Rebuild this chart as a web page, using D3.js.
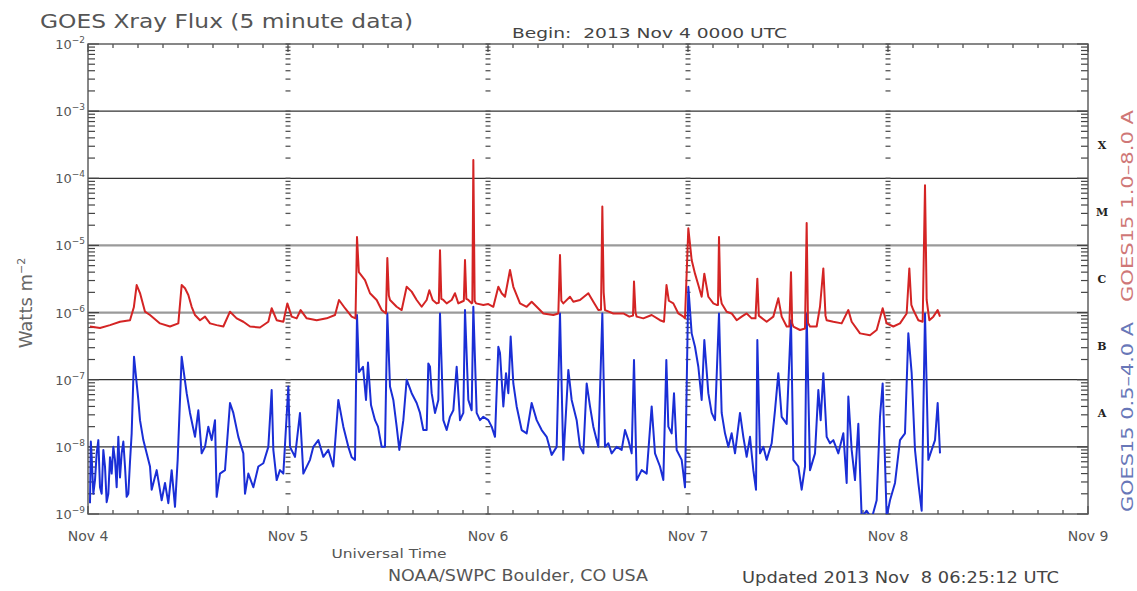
<!DOCTYPE html>
<html>
<head>
<meta charset="utf-8">
<script src="https://cdn.jsdelivr.net/npm/d3@7"></script>
<style>
  html, body { margin: 0; padding: 0; background: #fff; }
  svg { display: block; }
  #chart { font-family: "DejaVu Sans", sans-serif; fill: #444; }
  #chart text { white-space: pre; }
</style>
</head>
<body>
<svg id="chart" width="1137" height="591"></svg>
<script>
// Time axis: hours since 2013 Nov 4 00:00 UTC
const dayLabels = ["Nov 4", "Nov 5", "Nov 6", "Nov 7", "Nov 8", "Nov 9"];
const decadeExponents = [-2, -3, -4, -5, -6, -7, -8, -9];
const flareClasses = ["X", "M", "C", "B", "A"];
const flareClassFloor = [1e-4, 1e-5, 1e-6, 1e-7, 1e-8];

// GOES15 1.0-8.0 A channel (W m^-2)
const longHours = [0.24,1.44,2.64,3.84,5.04,5.5,5.84,6.24,6.84,7.44,8.64,9.84,10.84,11.24,11.64,12.04,12.44,12.84,13.44,14.04,14.64,15.44,16.24,17.04,17.84,18.64,19.44,20.64,21.64,22.04,22.64,23.44,23.92,24.44,25.04,25.52,26.24,27.44,28.64,29.64,30.12,30.84,31.64,32.1,32.28,32.5,33.24,33.84,34.64,35.24,35.76,35.92,36.1,36.24,37.04,37.64,38.24,38.84,39.44,40.04,40.64,40.96,41.36,41.84,42.1,42.24,42.4,42.64,43.04,43.64,44.04,44.44,44.84,45.1,45.24,45.4,45.64,46.04,46.12,46.24,46.4,46.56,47.44,48.04,48.64,49.24,49.64,50.04,50.64,51.04,51.84,52.64,53.24,53.84,54.64,55.84,56.44,56.64,56.8,57.04,57.84,58.24,59.04,60.04,60.64,61.24,61.56,61.72,61.88,62.04,63.04,64.24,64.96,65.4,65.52,65.7,65.84,66.64,67.64,68.64,69.12,69.42,69.7,70.24,70.84,71.44,71.64,72.04,72.44,72.84,73.24,73.64,73.96,74.44,75.04,75.44,75.6,75.72,75.88,76.04,76.64,77.24,77.84,78.44,79.04,79.64,80.1,80.32,80.5,80.64,81.44,82.24,82.84,83.24,83.84,84.16,84.36,84.5,84.64,85.44,86.04,86.24,86.4,86.64,87.44,87.84,88.24,88.5,88.64,89.44,90.44,91.24,91.64,92.64,93.84,94.64,95.36,95.84,96.64,97.44,98.24,98.56,98.8,99.04,99.64,100.16,100.44,100.64,100.96,101.44,101.96,102.24];
const longFlux = [6.2e-7,5.9e-7,6.5e-7,7.3e-7,7.7e-7,1.2e-6,2.57e-6,1.95e-6,1.03e-6,9.2e-7,6.9e-7,6.2e-7,6.9e-7,2.57e-6,2.3e-6,1.83e-6,1.22e-6,9.2e-7,7.7e-7,8.7e-7,6.9e-7,6.5e-7,6.2e-7,1.03e-6,8.2e-7,7.3e-7,6.2e-7,6.0e-7,7.3e-7,1.16e-6,7.7e-7,7.3e-7,1.37e-6,8.7e-7,8.2e-7,1.09e-6,8.2e-7,7.7e-7,8.2e-7,9.2e-7,1.54e-6,1.16e-6,8.7e-7,8.2e-7,1.33e-5,4.0e-6,3.05e-6,1.94e-6,1.54e-6,1.09e-6,9.7e-7,6.5e-6,1.8e-6,1.54e-6,1.22e-6,1.09e-6,2.42e-6,2.05e-6,1.54e-6,1.22e-6,1.54e-6,2.15e-6,1.54e-6,1.37e-6,1.4e-6,8.5e-6,1.6e-6,1.54e-6,1.37e-6,1.54e-6,1.94e-6,1.37e-6,1.45e-6,1.5e-6,6.07e-6,1.6e-6,1.54e-6,1.37e-6,1.4e-6,1.87e-4,1.5e-6,1.37e-6,1.3e-6,1.34e-6,1.22e-6,2.42e-6,1.94e-6,1.72e-6,4.3e-6,2.42e-6,1.37e-6,1.22e-6,1.45e-6,1.22e-6,9.7e-7,9.2e-7,9.7e-7,7.2e-6,1.5e-6,1.37e-6,1.72e-6,1.45e-6,1.54e-6,1.94e-6,1.45e-6,1.09e-6,1.1e-6,3.8e-5,2.0e-6,1.09e-6,9.7e-7,9.7e-7,8.7e-7,9.0e-7,2.9e-6,1.0e-6,8.7e-7,8.2e-7,9.2e-7,7.7e-7,7.3e-7,2.57e-6,1.5e-6,1.37e-6,9.7e-7,8.7e-7,8.2e-7,1.8e-5,6.07e-6,3.8e-6,2.57e-6,1.72e-6,3.8e-6,1.72e-6,1.37e-6,1.3e-6,1.3e-6,1.34e-5,1.8e-6,1.37e-6,1.03e-6,9.7e-7,7.7e-7,8.7e-7,9.7e-7,8.2e-7,8.2e-7,3.2e-6,9.0e-7,8.7e-7,7.3e-7,8.7e-7,1.63e-6,8.7e-7,6.2e-7,6.2e-7,4.0e-6,7.0e-7,6.2e-7,5.5e-7,5.8e-7,2.15e-5,7.0e-7,6.2e-7,6.2e-7,1.22e-6,4.55e-6,9.0e-7,7.7e-7,7.3e-7,6.9e-7,1.09e-6,7.3e-7,4.9e-7,4.6e-7,5.5e-7,1.16e-6,6.9e-7,6.2e-7,6.9e-7,9.7e-7,4.55e-6,1.3e-6,1.09e-6,7.7e-7,7.3e-7,7.9e-5,1.54e-6,7.7e-7,8.7e-7,1.09e-6,8.7e-7];

// GOES15 0.5-4.0 A channel (W m^-2)
const shortHours = [0.24,0.34,0.44,0.64,0.84,1.04,1.24,1.44,1.64,1.84,2.04,2.24,2.44,2.64,2.84,3.04,3.24,3.44,3.64,3.84,4.04,4.24,4.44,4.64,4.84,5.04,5.24,5.52,6.04,6.24,6.64,7.04,7.44,7.64,8.24,8.84,9.24,9.64,10.04,10.44,10.76,11.24,11.84,12.24,12.84,13.24,13.64,14.04,14.44,14.84,15.24,15.44,15.84,16.44,17.04,17.44,18.04,18.64,18.84,19.24,19.84,20.44,21.04,21.64,22.04,22.24,22.64,23.04,23.44,24.04,24.24,24.84,25.44,25.84,26.64,27.04,27.64,28.24,28.84,29.44,30.04,30.64,31.24,31.64,32.04,32.28,32.52,33.0,33.36,33.6,33.96,34.44,34.8,35.24,35.64,35.92,36.24,36.64,37.04,37.36,37.84,38.24,38.84,39.44,39.84,40.24,40.64,40.84,41.04,41.24,41.64,42.04,42.24,42.64,43.04,43.44,43.84,44.24,44.64,45.04,45.24,45.64,46.04,46.24,46.64,47.04,47.44,48.04,48.44,48.84,49.24,49.44,49.84,50.16,50.44,50.72,51.04,51.44,52.04,52.64,53.24,53.84,54.44,55.04,55.64,56.24,56.64,57.04,57.64,58.04,58.64,59.04,59.44,59.84,60.24,60.64,61.24,61.72,62.04,62.44,62.84,63.44,64.04,64.44,64.84,65.24,65.52,65.84,66.44,67.04,67.64,68.04,68.64,69.04,69.4,69.64,70.04,70.32,70.64,71.24,71.64,72.04,72.44,72.84,73.24,73.64,73.96,74.44,74.84,75.24,75.72,76.04,76.44,76.84,77.24,77.64,78.24,78.64,79.04,79.44,79.84,80.16,80.32,80.64,81.04,81.44,82.04,82.44,82.84,83.24,83.84,84.36,84.64,85.24,85.64,86.04,86.24,86.64,87.24,87.64,87.92,88.24,88.64,89.04,89.44,90.04,90.64,91.04,91.24,91.64,92.04,92.44,92.84,93.44,94.04,94.64,95.04,95.36,95.84,96.24,96.84,97.44,98.04,98.44,98.84,99.24,99.64,100.04,100.44,100.84,101.24,101.64,101.96,102.24];
const shortFlux = [1.45e-9,1.2e-8,7.1e-9,2.0e-9,3.2e-9,8.0e-9,1.26e-8,2.5e-9,2.0e-9,9.0e-9,5.1e-9,1.5e-9,2.0e-9,7.0e-9,4.0e-9,1.0e-8,6.4e-9,2.5e-9,1.41e-8,3.5e-9,8.0e-9,1.2e-8,5.1e-9,1.8e-9,2.0e-9,6.0e-9,1.59e-8,2.2e-7,5.0e-8,2.5e-8,1.26e-8,8.0e-9,5.1e-9,2.3e-9,4.5e-9,1.6e-9,2.9e-9,1.45e-9,4.5e-9,1.28e-9,6.4e-9,2.2e-7,6.3e-8,3.2e-8,1.41e-8,3.5e-8,8.0e-9,1.0e-8,2.0e-8,1.26e-8,2.5e-8,1.8e-9,4.0e-9,4.5e-9,4.5e-8,3.2e-8,1.41e-8,8.0e-9,2.0e-9,4.0e-9,2.5e-9,5.1e-9,5.7e-9,1.0e-8,7.0e-8,9.0e-9,3.2e-9,4.5e-9,4.0e-9,7.9e-8,1.0e-8,7.1e-9,3.2e-8,4.0e-9,6.4e-9,1.0e-8,1.26e-8,7.1e-9,9.0e-9,5.1e-9,5.0e-8,2.0e-8,1.0e-8,7.0e-9,6.4e-9,9.2e-7,1.3e-7,1.56e-7,5.0e-8,1.8e-7,4.2e-8,2.5e-8,2.0e-8,1.0e-8,1.0e-8,9.7e-7,7.9e-8,5.0e-8,2.0e-8,9.0e-9,2.5e-8,1.0e-7,6.3e-8,4.5e-8,3.2e-8,1.78e-8,1.78e-8,1.75e-7,1.56e-7,6.3e-8,3.2e-8,5.0e-8,9.7e-7,2.5e-8,1.78e-8,2.8e-8,3.5e-8,1.56e-7,2.5e-8,3.2e-8,1.09e-6,5.0e-8,3.5e-8,1.22e-6,3.2e-8,2.5e-8,2.8e-8,2.5e-8,2.0e-8,1.41e-8,3.1e-7,2.5e-7,4.0e-8,1.25e-7,6.3e-8,4.4e-7,8.8e-8,4.0e-8,1.78e-8,1.59e-8,4.5e-8,2.5e-8,1.78e-8,1.41e-8,7.6e-9,1.0e-8,9.7e-7,6.4e-9,1.4e-7,5.0e-8,2.5e-8,1.0e-8,8.0e-9,8.8e-8,4.0e-8,2.0e-8,1.0e-8,9.7e-7,1.0e-8,1.13e-8,8.0e-9,1.0e-8,9.0e-9,1.78e-8,1.26e-8,8.0e-9,1.96e-7,3.2e-9,4.5e-9,4.0e-9,4.0e-8,8.0e-9,5.1e-9,3.2e-9,1.96e-7,2.0e-8,1.59e-8,6.3e-8,9.0e-9,6.4e-9,2.5e-9,2.42e-6,4.9e-7,3.1e-7,1.56e-7,5.0e-8,3.9e-7,6.3e-8,3.2e-8,2.5e-8,9.7e-7,3.2e-8,1.59e-8,1.0e-8,1.59e-8,8.0e-9,3.2e-8,1.41e-8,7.1e-9,1.41e-8,4.5e-9,2.3e-9,3.9e-7,8.0e-9,1.0e-8,6.4e-9,1.13e-8,3.5e-8,1.25e-7,2.8e-8,2.2e-8,7.7e-7,6.4e-9,5.1e-9,2.3e-9,5.1e-9,9.7e-7,4.5e-9,8.0e-9,7.0e-8,2.5e-8,1.25e-7,1.41e-8,1.13e-8,1.26e-8,8.0e-9,1.59e-8,2.9e-9,5.6e-8,9.0e-9,3.2e-9,2.2e-8,9.0e-10,1.12e-9,8.5e-10,1.6e-9,2.8e-8,8.8e-8,9.0e-10,1.6e-9,2.9e-9,1.26e-8,1.59e-8,4.9e-7,1.25e-7,9.0e-9,2.9e-9,1.12e-9,9.7e-7,6.4e-9,9.0e-9,1.26e-8,4.5e-8,8.0e-9];

const svg = d3.select("#chart");
const plotLeft = 88, plotRight = 1088, plotTop = 44, plotBottom = 514;

const x = d3.scaleLinear().domain([0, 120]).range([plotLeft, plotRight]);
const y = d3.scaleLog().domain([1e-9, 1e-2]).range([plotBottom, plotTop]);

// minor log ticks (2..9 x 10^n) and decades
const minorVals = [];
for (let e = -9; e < -2; e++) for (let k = 2; k <= 9; k++) minorVals.push(k * Math.pow(10, e));
const decadeVals = decadeExponents.map(e => Math.pow(10, e));

// horizontal decade grid lines
const gridG = svg.append("g");
gridG.selectAll("line").data(decadeExponents.filter(e => e < -2 && e > -9)).join("line")
  .attr("x1", plotLeft).attr("x2", plotRight)
  .attr("y1", e => y(Math.pow(10, e))).attr("y2", e => y(Math.pow(10, e)))
  .attr("stroke", e => (e === -5 || e === -6) ? "#9a9a9a" : "#333")
  .attr("stroke-width", e => (e === -5 || e === -6) ? 2.2 : 1.2);

// tick rulers at each day boundary
const rulerG = svg.append("g").attr("stroke", "#555").attr("stroke-width", 1.3);
[24, 48, 72, 96].forEach(h => {
  rulerG.append("g").selectAll("line").data(minorVals.concat(decadeVals)).join("line")
    .attr("x1", x(h) - 2.5).attr("x2", x(h) + 2.5)
    .attr("y1", d => y(d)).attr("y2", d => y(d));
});

// left and right log axes, ticks inward
const axisG = svg.append("g").attr("stroke", "#444").attr("stroke-width", 1.2);
axisG.append("g").selectAll("line").data(minorVals).join("line")
  .attr("x1", plotLeft).attr("x2", plotLeft + 7).attr("y1", d => y(d)).attr("y2", d => y(d));
axisG.append("g").selectAll("line").data(decadeVals).join("line")
  .attr("x1", plotLeft).attr("x2", plotLeft + 11).attr("y1", d => y(d)).attr("y2", d => y(d));
axisG.append("g").selectAll("line").data(minorVals).join("line")
  .attr("x1", plotRight).attr("x2", plotRight - 7).attr("y1", d => y(d)).attr("y2", d => y(d));
axisG.append("g").selectAll("line").data(decadeVals).join("line")
  .attr("x1", plotRight).attr("x2", plotRight - 11).attr("y1", d => y(d)).attr("y2", d => y(d));

// time ticks every 3 hours on top and bottom
const hourTicks = d3.range(0, 121, 3);
axisG.append("g").selectAll("line").data(hourTicks).join("line")
  .attr("x1", d => x(d)).attr("x2", d => x(d))
  .attr("y1", plotBottom).attr("y2", d => d % 24 === 0 ? plotBottom - 8 : plotBottom - 4);
axisG.append("g").selectAll("line").data(hourTicks).join("line")
  .attr("x1", d => x(d)).attr("x2", d => x(d))
  .attr("y1", plotTop).attr("y2", d => d % 24 === 0 ? plotTop + 8 : plotTop + 4);

// frame
svg.append("rect").attr("x", plotLeft).attr("y", plotTop)
  .attr("width", plotRight - plotLeft).attr("height", plotBottom - plotTop)
  .attr("fill", "none").attr("stroke", "#555").attr("stroke-width", 1.4);

// flux curves
svg.append("clipPath").attr("id", "plotClip").append("rect")
  .attr("x", plotLeft).attr("y", plotTop).attr("width", plotRight - plotLeft).attr("height", plotBottom - plotTop);

const line = d3.line().x(d => x(d[0])).y(d => y(d[1]));
const longSeries = longHours.map((h, i) => [h, longFlux[i]]);
const shortSeries = shortHours.map((h, i) => [h, shortFlux[i]]);

const curves = svg.append("g").attr("clip-path", "url(#plotClip)");
curves.append("path").datum(shortSeries).attr("d", line)
  .attr("fill", "none").attr("stroke", "#1a2ed6").attr("stroke-width", 2)
  .attr("stroke-linejoin", "round");
curves.append("path").datum(longSeries).attr("d", line)
  .attr("fill", "none").attr("stroke", "#d42424").attr("stroke-width", 2)
  .attr("stroke-linejoin", "round");

// y-axis labels 10^n
const ylab = svg.append("g");
decadeExponents.forEach(e => {
  const t = ylab.append("text").attr("x", 85).attr("y", y(Math.pow(10, e)) + 5)
    .attr("text-anchor", "end").attr("font-size", 13).attr("fill", "#555");
  t.append("tspan").text("10");
  t.append("tspan").attr("dy", -6).attr("font-size", 9).text("\u2212" + Math.abs(e));
});

// y-axis title
const wt = svg.append("text").attr("transform", "translate(32,303) rotate(-90)")
  .attr("text-anchor", "middle").attr("font-size", 18).attr("fill", "#666");
wt.append("tspan").text("Watts m");
wt.append("tspan").attr("dy", -7).attr("font-size", 11).text("\u22122");

// day labels
svg.append("g").selectAll("text").data(dayLabels).join("text")
  .attr("x", (d, i) => x(i * 24)).attr("y", 541)
  .attr("text-anchor", "middle").attr("font-size", 14).attr("fill", "#555")
  .text(d => d);

// flare class letters
svg.append("g").selectAll("text").data(flareClasses).join("text")
  .attr("x", 1102).attr("y", (d, i) => y(flareClassFloor[i] * Math.sqrt(10)) + 4)
  .attr("text-anchor", "middle").attr("font-size", 11).attr("font-weight", "bold")
  .style("font-family", "'DejaVu Serif', serif").attr("fill", "#222")
  .text(d => d);

// channel labels on the right
svg.append("text").attr("transform", "translate(1133,206) rotate(-90)")
  .attr("text-anchor", "middle").attr("font-size", 15).attr("fill", "#cf7777")
  .attr("textLength", 192).attr("lengthAdjust", "spacingAndGlyphs")
  .text("GOES15 1.0\u20138.0 A");
svg.append("text").attr("transform", "translate(1133,417) rotate(-90)")
  .attr("text-anchor", "middle").attr("font-size", 15).attr("fill", "#6877b8")
  .attr("textLength", 190).attr("lengthAdjust", "spacingAndGlyphs")
  .text("GOES15 0.5\u20134.0 A");

// titles and footer
svg.append("text").attr("x", 40).attr("y", 28).attr("font-size", 20).attr("fill", "#555")
  .attr("textLength", 373).attr("lengthAdjust", "spacingAndGlyphs")
  .text("GOES Xray Flux (5 minute data)");
svg.append("text").attr("x", 512).attr("y", 38).attr("font-size", 14).attr("fill", "#444")
  .attr("textLength", 275).attr("lengthAdjust", "spacingAndGlyphs")
  .text("Begin:  2013 Nov 4 0000 UTC");
svg.append("text").attr("x", 389).attr("y", 558).attr("font-size", 13).attr("fill", "#555")
  .attr("text-anchor", "middle").attr("textLength", 115).attr("lengthAdjust", "spacingAndGlyphs")
  .text("Universal Time");
svg.append("text").attr("x", 518).attr("y", 581).attr("font-size", 15).attr("fill", "#555")
  .attr("text-anchor", "middle").attr("textLength", 260).attr("lengthAdjust", "spacingAndGlyphs")
  .text("NOAA/SWPC Boulder, CO USA");
svg.append("text").attr("x", 742).attr("y", 583).attr("font-size", 15).attr("fill", "#444")
  .attr("textLength", 317).attr("lengthAdjust", "spacingAndGlyphs")
  .text("Updated 2013 Nov  8 06:25:12 UTC");
</script>
</body>
</html>
